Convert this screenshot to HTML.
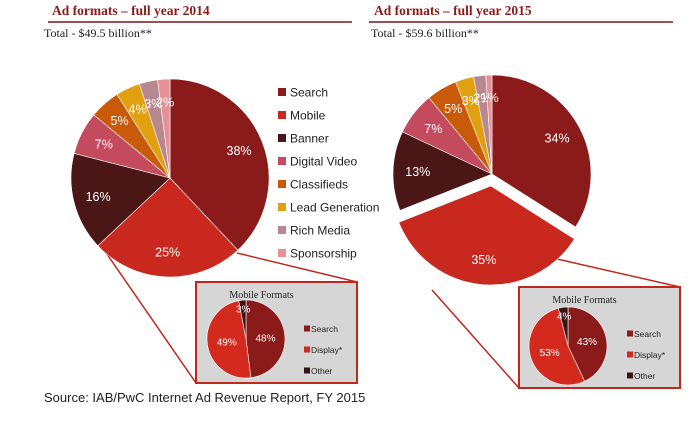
<!DOCTYPE html>
<html><head><meta charset="utf-8">
<style>
body{margin:0;background:#fff;width:700px;height:422px;overflow:hidden;font-family:"Liberation Sans",sans-serif}
svg{display:block}
</style></head>
<body>
<svg id="c" width="700" height="422">
<g>
<text x="52" y="15" font-family="Liberation Serif,serif" font-weight="bold" font-size="13.5" fill="#8b1a1a">Ad formats – full year 2014</text>
<line x1="48" y1="22" x2="352" y2="22" stroke="#7a1515" stroke-width="1.5"/>
<text x="44" y="37" font-family="Liberation Serif,serif" font-size="12" fill="#222">Total - $49.5 billion**</text>
</g>
<g>
<text x="374" y="15" font-family="Liberation Serif,serif" font-weight="bold" font-size="13.5" fill="#8b1a1a">Ad formats – full year 2015</text>
<line x1="369" y1="22" x2="673" y2="22" stroke="#7a1515" stroke-width="1.5"/>
<text x="371" y="37" font-family="Liberation Serif,serif" font-size="12" fill="#222">Total - $59.6 billion**</text>
</g>
<text x="44" y="402" font-size="13" fill="#222">Source: IAB/PwC Internet Ad Revenue Report, FY 2015</text>
</svg>
<script>
const categories=["Search","Mobile","Banner","Digital Video","Classifieds","Lead Generation","Rich Media","Sponsorship"];
const colors=["#8b1a1a","#c8281e","#4a1616","#c44a5e","#c85a0a","#e0a010","#b88890","#e89098"];
const values2014=[38,25,16,7,5,4,3,2];
const values2015=[34,35,13,7,5,3,2,1];
const mobileCats=["Search","Display*","Other"];
const mobileColors=["#8b1a1a","#d42a1e","#3a1414"];
const mobile2014=[48,49,3];
const mobile2015=[43,53,4];
const NS="http://www.w3.org/2000/svg";
const svg=document.getElementById('c');
function mk(t,a,p){const e=document.createElementNS(NS,t);for(const k in a)e.setAttribute(k,a[k]);(p||svg).appendChild(e);return e;}
function pt(cx,cy,r,f){const a=f*2*Math.PI;return [cx+r*Math.sin(a),cy-r*Math.cos(a)];}
function pie(vals,cols,cx,cy,r,explode,name,fs,lr){
  const g=mk('g',{});
  
  
  const tot=vals.reduce((a,b)=>a+b,0);let acc=0;
  vals.forEach((v,i)=>{
    const f0=acc/tot,f1=(acc+v)/tot;acc+=v;
    let ox=0,oy=0;
    if(explode===i){const m=pt(0,0,12,(f0+f1)/2);ox=m[0];oy=m[1];}
    const p0=pt(cx+ox,cy+oy,r,f0),p1=pt(cx+ox,cy+oy,r,f1);
    const large=(f1-f0)>0.5?1:0;
    const path=mk('path',{d:`M${cx+ox},${cy+oy}L${p0[0]},${p0[1]}A${r},${r} 0 ${large} 1 ${p1[0]},${p1[1]}Z`,fill:cols[i],stroke:'#fff','stroke-width':0.6},g);
    
    
    const rr=v<6?r*0.77:r*lr;
    const lp=pt(cx+ox,cy+oy,rr,(f0+f1)/2);
    const t=mk('text',{x:lp[0],y:lp[1]+fs*0.35,'text-anchor':'middle','font-size':fs,fill:'#fff'},g);
    t.textContent=v+'%';
    
    
  });
}
[[100,244,196,383],[237,253,357,282],[432,290,519,388],[557,259,680,287]].forEach(l=>{
  const e=mk('line',{x1:l[0],y1:l[1],x2:l[2],y2:l[3],stroke:'#c0281e','stroke-width':1.5});
  
  
});
pie(values2014,colors,170,178,99,-1,'pie-2014',12.5,0.75);
pie(values2015,colors,492,174,99,1,'pie-2015',12.5,0.75);
const lg=mk('g',{});


categories.forEach((c,i)=>{
  const y=92+i*23;
  const s=mk('rect',{x:278,y:y-4,width:8,height:8,fill:colors[i]},lg);
  
  
  const t=mk('text',{x:290,y:y+4.5,'font-size':12,fill:'#222'},lg);
  t.textContent=c;
  
  
});
function inset(x,y,w,h,vals,cx,cy,name){
  const g=mk('g',{});
  
  
  mk('rect',{x:x,y:y,width:w,height:h,fill:'#d6d6d6',stroke:'#c0281e','stroke-width':2},g);
  const t=mk('text',{x:x+w/2-15,y:y+16,'text-anchor':'middle','font-family':'Liberation Serif,serif','font-size':10,fill:'#222'},g);
  t.textContent='Mobile Formats';
  
  
  mobileCats.forEach((c,i)=>{
    const yy=y+47+i*21;
    mk('rect',{x:x+w-53,y:yy-3.5,width:6,height:6,fill:mobileColors[i]},g);
    const l=mk('text',{x:x+w-46,y:yy+3,'font-size':8.5,fill:'#222'},g);
    l.textContent=c;
    
    
  });
  pie(vals,mobileColors,cx,cy,39,-1,name+'-pie',10,0.5);
}
inset(196,282,161,101,mobile2014,246,339,'mobile-formats-2014');
inset(519,287,161,101,mobile2015,568,346,'mobile-formats-2015');
</script>
</body></html>
